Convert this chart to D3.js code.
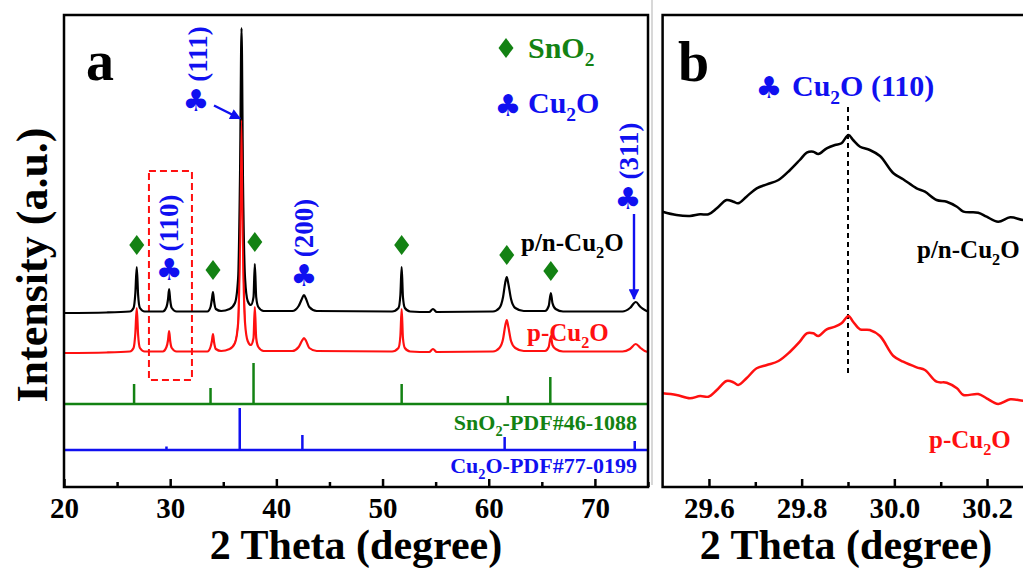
<!DOCTYPE html>
<html>
<head>
<meta charset="utf-8">
<script src="https://cdn.jsdelivr.net/npm/d3@7"></script>
<style>
  body { margin: 0; background: #fff; }
  svg { display: block; font-family: "Liberation Serif", "Times New Roman", serif; font-weight: bold; }
</style>
</head>
<body>
<svg width="1023" height="569"></svg>
<script>
// ---- panel a: XRD patterns (2 theta, relative intensity above each baseline)
const thetaA = [20.0, 24.0, 26.2, 26.55, 26.72, 26.85, 26.98, 27.15, 27.6, 29.3, 29.65, 29.8, 29.9, 30.0, 30.15, 30.6,
  33.5, 33.8, 33.93, 34.03, 34.13, 34.3, 34.8, 35.6, 36.1, 36.4, 36.58, 36.72, 36.86, 37.05, 37.3, 37.6,
  37.85, 37.97, 38.1, 38.3, 38.8, 41.5, 42.1, 42.4, 42.6, 42.8, 43.1, 43.8, 50.9, 51.5, 51.68, 51.8, 51.92,
  52.1, 52.6, 54.4, 54.75, 55.1, 60.4, 61.0, 61.35, 61.55, 61.7, 61.85, 62.1, 62.5, 63.3, 65.3, 65.65,
  65.85, 66.0, 66.3, 67.0, 72.6, 73.3, 73.85, 74.3, 74.7, 75.0];
const pnCu2O = [0, 0.5, 1.5, 5, 20, 46, 18, 5, 1.5, 1.5, 6, 14, 24, 13, 5, 1.5,
  1.5, 6, 14, 21, 12, 4, 2, 4, 10, 35, 140, 285, 130, 35, 12, 8,
  16, 49, 16, 6, 2, 2, 7, 14, 18, 14, 6, 2, 1.5, 5, 18, 46, 16,
  5, 1.5, 1, 4, 1, 1.5, 5, 16, 30, 36, 29, 14, 5, 2, 2, 7,
  20, 10, 4, 1.5, 1.5, 5, 11, 6, 3, 1.5];
const pCu2O = [0, 0.5, 1.5, 5, 20, 45, 18, 5, 1.5, 1.5, 6, 13, 22, 12, 5, 1.5,
  1.5, 6, 12, 19, 11, 4, 2, 4, 10, 30, 115, 233, 105, 30, 12, 8,
  15, 46, 15, 6, 2, 2, 6, 12, 15, 12, 5, 2, 1.5, 5, 17, 44, 15,
  5, 1.5, 1, 4, 1, 1.5, 5, 14, 27, 33, 26, 12, 5, 2, 2, 6,
  17, 8, 4, 1.5, 1.5, 4, 9, 5, 2, 1];

// reference cards (stick positions and heights)
const sno2Theta = [26.6, 33.8, 37.85, 51.8, 61.8, 65.8];
const sno2Int = [20, 16, 41, 20, 8, 27];
const cu2oTheta = [29.65, 36.55, 42.45, 52.6, 61.5, 73.75];
const cu2oInt = [3.5, 42, 15, 1, 13, 9];

// peak markers
const sno2Peaks = [26.85, 34.03, 37.97, 51.8, 61.7, 65.85];
const cu2oPeaks = [29.9, 42.6];

// ---- panel b: Cu2O (110) zoom
const thetaB = [29.50, 29.530, 29.559, 29.581, 29.599, 29.617, 29.638, 29.653, 29.663, 29.681, 29.703, 29.725,
  29.750, 29.775, 29.796, 29.811, 29.825, 29.836, 29.854, 29.872, 29.886, 29.901, 29.911, 29.926, 29.947,
  29.969, 29.998, 30.019, 30.048, 30.066, 30.091, 30.113, 30.135, 30.149, 30.181, 30.199, 30.224, 30.250,
  30.278, 30.30];
const pnB = [10.3, 7, 6, 7.7, 7.7, 13.7, 22, 20.3, 18.7, 25.3, 33.7, 37.7,
  42, 52, 62, 69.3, 70.3, 68, 73.7, 77, 78.7, 87, 82, 75.3, 72,
  66, 48.7, 42.7, 33.7, 30.3, 22, 20.3, 15.3, 10.3, 9.3, 5.3, 0.3, 4.7,
  2, 2];
const pB = [10.7, 9, 5.7, 8, 7.3, 14, 23, 21.7, 19, 25.7, 35.7, 39,
  43, 52.3, 62.3, 70.7, 70.7, 68, 74.7, 77.3, 80.7, 88, 82.3, 74.7, 74,
  68, 48, 42.3, 36.7, 34, 22.3, 21.3, 15.7, 9, 10, 5.7, 0, 4.7,
  3.3, 3.3];

const ticksA = [20, 30, 40, 50, 60, 70];
const minorA = [25, 35, 45, 55, 65, 75];
const ticksB = [29.6, 29.8, 30.0, 30.2];
const minorB = [29.7, 29.9, 30.1];

const GREEN = "#138213", BLUE = "#1010f0", RED = "#ff1010";

const svg = d3.select("svg");
svg.append("rect").attr("width", 1023).attr("height", 569).attr("fill", "#fff");

// layout
const plotTop = 15, plotBot = 487;
const xA = d3.scaleLinear().domain([20, 75]).range([64, 648]);
const yA = d3.scaleLinear().domain([0, 472]).range([plotBot, plotTop]);
const xB = d3.scaleLinear().domain([29.5, 30.3]).range([662.6, 1033.4]);
const yB = yA;
const offPN = 174, offP = 134, offSn = 83, offCu = 37;
const offPNb = 265, offPb = 83;

// separator between panels
svg.append("line").attr("x1", 652).attr("x2", 652).attr("y1", 0).attr("y2", 485)
  .attr("stroke", "#d8d8d8").attr("stroke-width", 2);

// text with subscript helper
function rich(g, x, y, parts, size, color, anchor) {
  const t = g.append("text").attr("x", x).attr("y", y).attr("font-size", size)
    .attr("fill", color).attr("text-anchor", anchor || "start");
  parts.forEach(p => {
    if (p.sub) {
      t.append("tspan").attr("font-size", size * 0.65).attr("dy", size * 0.28).text(p.s);
    } else {
      const ts = t.append("tspan").text(p.s);
      if (p.after) ts.attr("dy", -size * 0.28);
    }
  });
  return t;
}
const cu2o = [{s: "Cu"}, {s: "2", sub: true}, {s: "O", after: true}];

function diamond(g, cx, cy, color) {
  g.append("path")
    .attr("d", `M${cx},${cy - 10}L${cx + 7.5},${cy}L${cx},${cy + 10}L${cx - 7.5},${cy}Z`)
    .attr("fill", color);
}
function club(g, cx, cy, size) {
  g.append("text").attr("x", cx).attr("y", cy).attr("text-anchor", "middle")
    .attr("dominant-baseline", "central")
    .attr("font-family", "DejaVu Sans").attr("font-size", size || 30)
    .attr("fill", BLUE).text("\u2663");
}
function vlabel(g, cx, cy, txt, size) {
  g.append("text").attr("transform", `translate(${cx},${cy}) rotate(-90)`)
    .attr("text-anchor", "middle").attr("dominant-baseline", "central")
    .attr("font-size", size || 27).attr("fill", BLUE).text(txt);
}

// ================= panel a =================
const gA = svg.append("g");

// dashed box around (110)
gA.append("rect").attr("x", xA(28.0)).attr("y", 171)
  .attr("width", xA(32.05) - xA(28.0)).attr("height", 380 - 171)
  .attr("fill", "none").attr("stroke", RED).attr("stroke-width", 2).attr("stroke-dasharray", "7,4");

const lineA = off => d3.line().x((d, i) => xA(thetaA[i])).y(d => yA(d + off)).curve(d3.curveMonotoneX);
gA.append("path").datum(pCu2O).attr("d", lineA(offP)).attr("fill", "none")
  .attr("stroke", RED).attr("stroke-width", 2.2);
gA.append("path").datum(pnCu2O).attr("d", lineA(offPN)).attr("fill", "none")
  .attr("stroke", "#000").attr("stroke-width", 2.2);
// red main peak drawn over the black one
gA.append("path").datum(pCu2O.slice(24, 30)).attr("d", d3.line()
    .x((d, i) => xA(thetaA[i + 24])).y(d => yA(d + offP)).curve(d3.curveMonotoneX))
  .attr("fill", "none").attr("stroke", RED).attr("stroke-width", 1.5);

// reference sticks
function sticks(th, val, off, color) {
  gA.append("line").attr("x1", xA(20)).attr("x2", xA(75)).attr("y1", yA(off)).attr("y2", yA(off))
    .attr("stroke", color).attr("stroke-width", 2.5);
  gA.selectAll(null).data(th).enter().append("line")
    .attr("x1", d => xA(d)).attr("x2", d => xA(d))
    .attr("y1", yA(off)).attr("y2", (d, i) => yA(off + val[i]))
    .attr("stroke", color).attr("stroke-width", 2.5);
}
sticks(sno2Theta, sno2Int, offSn, GREEN);
sticks(cu2oTheta, cu2oInt, offCu, BLUE);

rich(gA, 637, 430, [{s: "SnO"}, {s: "2", sub: true}, {s: "-PDF#46-1088", after: true}], 22, GREEN, "end");
rich(gA, 637, 473, [{s: "Cu"}, {s: "2", sub: true}, {s: "O-PDF#77-0199", after: true}], 22, BLUE, "end");

// peak markers
sno2Peaks.forEach(t => {
  const i = thetaA.indexOf(t);
  diamond(gA, xA(t), yA(pnCu2O[i] + offPN) - 22, GREEN);
});
cu2oPeaks.forEach(t => {
  const i = thetaA.indexOf(t);
  club(gA, xA(t), yA(pnCu2O[i] + offPN) - 20);
});
vlabel(gA, xA(29.9), 223, "(110)");
vlabel(gA, xA(42.6), 228, "(200)");
club(gA, 196, 100);
vlabel(gA, 198, 54, "(111)");
club(gA, 628, 198);
vlabel(gA, 629, 151, "(311)");

// arrows
svg.append("defs").append("marker").attr("id", "ah").attr("viewBox", "0 0 10 10")
  .attr("refX", 9).attr("refY", 5).attr("markerWidth", 6.5).attr("markerHeight", 4.5)
  .attr("orient", "auto").attr("markerUnits", "strokeWidth")
  .append("path").attr("d", "M0,0L10,5L0,10Z").attr("fill", BLUE);
gA.append("line").attr("x1", 214).attr("y1", 105.5).attr("x2", 240).attr("y2", 118.5)
  .attr("stroke", BLUE).attr("stroke-width", 2.4).attr("marker-end", "url(#ah)");
gA.append("line").attr("x1", 634).attr("y1", 214).attr("x2", 634).attr("y2", 299)
  .attr("stroke", BLUE).attr("stroke-width", 2.4).attr("marker-end", "url(#ah)");

// legend
diamond(gA, 506, 48, GREEN);
rich(gA, 528, 58, [{s: "SnO"}, {s: "2", sub: true}], 30, GREEN);
club(gA, 508, 105);
rich(gA, 528, 113, cu2o, 30, BLUE);

// sample labels
rich(gA, 521, 251, [{s: "p/n-"}].concat(cu2o), 25, "#000");
rich(gA, 527, 341, [{s: "p-"}].concat(cu2o), 25, RED);

gA.append("text").attr("x", 86).attr("y", 80).attr("font-size", 56).attr("fill", "#000").text("a");

// frame + axes
gA.append("rect").attr("x", 64).attr("y", plotTop).attr("width", 648 - 64).attr("height", plotBot - plotTop)
  .attr("fill", "none").attr("stroke", "#000").attr("stroke-width", 2.5);

function xAxis(g, scale, major, minor, fmt) {
  const ax = g.append("g").attr("transform", `translate(0,${plotBot})`)
    .call(d3.axisBottom(scale).tickValues(major).tickSize(-8).tickPadding(10).tickFormat(fmt));
  ax.select(".domain").remove();
  ax.selectAll("line").attr("stroke-width", 2.5);
  ax.selectAll("text").attr("font-size", 29).attr("font-family", "Liberation Serif")
    .attr("font-weight", "bold").attr("fill", "#000");
  const mx = g.append("g").attr("transform", `translate(0,${plotBot})`)
    .call(d3.axisBottom(scale).tickValues(minor).tickSize(-5).tickFormat(""));
  mx.select(".domain").remove();
  mx.selectAll("line").attr("stroke-width", 2.5);
}
xAxis(gA, xA, ticksA, minorA, d3.format("d"));

gA.append("text").attr("x", 356).attr("y", 559).attr("text-anchor", "middle")
  .attr("font-size", 42).text("2 Theta (degree)");
gA.append("text").attr("transform", "translate(47,265) rotate(-90)").attr("text-anchor", "middle")
  .attr("font-size", 44).text("Intensity (a.u.)");

// ================= panel b =================
const gB = svg.append("g");
gB.append("line").attr("x1", xB(29.9)).attr("x2", xB(29.9)).attr("y1", 107).attr("y2", 375)
  .attr("stroke", "#000").attr("stroke-width", 2).attr("stroke-dasharray", "5,4");
const lineB = off => d3.line().x((d, i) => xB(thetaB[i])).y(d => yB(d + off)).curve(d3.curveCatmullRom);
gB.append("path").datum(pnB).attr("d", lineB(offPNb)).attr("fill", "none")
  .attr("stroke", "#000").attr("stroke-width", 2.5);
gB.append("path").datum(pB).attr("d", lineB(offPb)).attr("fill", "none")
  .attr("stroke", RED).attr("stroke-width", 2.5);

gB.append("path").attr("d", `M1040,${plotTop}H${xB(29.5)}V${plotBot}H1040`)
  .attr("fill", "none").attr("stroke", "#000").attr("stroke-width", 2.5);
xAxis(gB, xB, ticksB, minorB, d3.format(".1f"));

gB.append("text").attr("x", 678).attr("y", 81).attr("font-size", 56).attr("fill", "#000").text("b");
club(gB, 769, 87);
rich(gB, 792, 96, cu2o.concat([{s: " (110)"}]), 30, BLUE);
rich(gB, 917, 258, [{s: "p/n-"}].concat(cu2o), 25, "#000");
rich(gB, 929, 448, [{s: "p-"}].concat(cu2o), 25, RED);
gB.append("text").attr("x", 846).attr("y", 559).attr("text-anchor", "middle")
  .attr("font-size", 42).text("2 Theta (degree)");
</script>
</body>
</html>
